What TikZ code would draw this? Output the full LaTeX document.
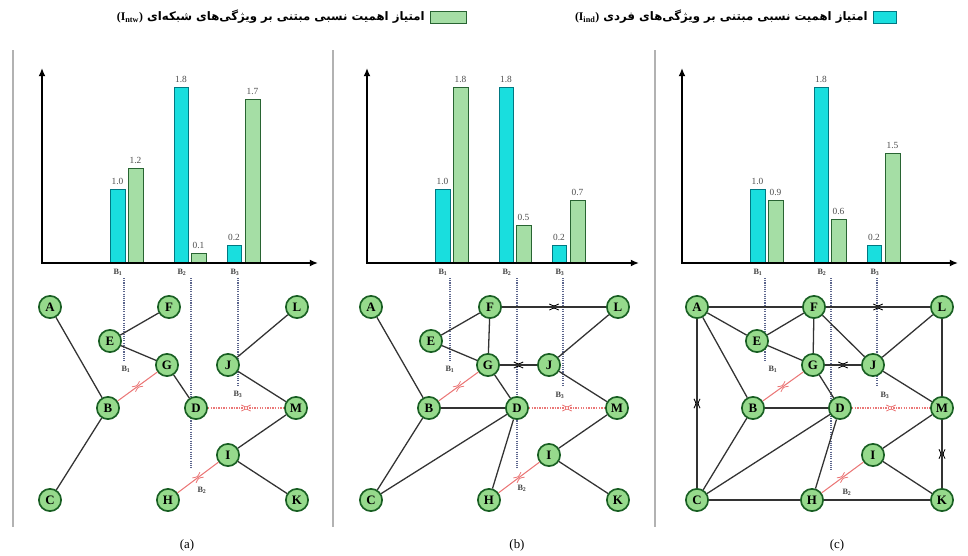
\documentclass[tikz,border=0pt]{standalone}
\usepackage{fontspec}
\setmainfont{Liberation Serif}
\newfontfamily\persianfont[Script=Arabic]{DejaVu Sans}
\TeXXeTstate=1
\usetikzlibrary{arrows.meta,decorations.markings}

\definecolor{nodefill}{RGB}{150,218,140}
\definecolor{nodeline}{RGB}{25,95,35}
\definecolor{barcyan}{RGB}{25,222,222}
\definecolor{barcyanline}{RGB}{0,120,130}
\definecolor{bargreen}{RGB}{165,222,165}
\definecolor{bargreenline}{RGB}{40,100,50}
\definecolor{cutred}{RGB}{235,120,120}
\definecolor{guide}{RGB}{90,100,140}

\tikzset{
  vertex/.style={circle, draw=nodeline, line width=1.4pt, fill=nodefill, minimum size=19pt,
    inner sep=0pt, font=\bfseries\fontsize{11}{11}\selectfont},
  link/.style={line width=1.1pt, black!80},
  cutlink/.style={line width=0.9pt, cutred},
  cutdots/.style={line width=1.2pt, cutred, densely dotted},
  pinch/.style={postaction={decorate, decoration={markings, mark=at position 0.5 with {
      \draw[line width=0.7pt, solid, #1] (-4pt,2.6pt) .. controls (0pt,0.5pt) .. (4pt,2.6pt);
      \draw[line width=0.7pt, solid, #1] (-4pt,-2.6pt) .. controls (0pt,-0.5pt) .. (4pt,-2.6pt);}}}},
  pinch/.default=black,
  chartaxis/.style={line width=2.2pt, {Latex[length=7pt,width=6pt]}-{Latex[length=7pt,width=6pt]}},
  ibar/.style={draw=barcyanline, fill=barcyan, line width=0.8pt},
  nbar/.style={draw=bargreenline, fill=bargreen, line width=0.8pt},
  valtext/.style={font=\fontsize{8}{8}\selectfont, text=black!70, inner sep=1pt, anchor=south},
  blabel/.style={font=\bfseries\fontsize{7}{7}\selectfont, text=black!75, inner sep=1pt},
  guideline/.style={guide, line width=0.9pt, densely dotted},
  panelrule/.style={black!30, line width=1.2pt},
  captext/.style={font=\fontsize{11}{12}\selectfont},
  legendtext/.style={font=\persianfont\bfseries\fontsize{10}{11}\selectfont, inner sep=0pt, anchor=east}
}

\begin{document}
\begin{tikzpicture}[x=0.03cm, y=-0.03cm]
\useasboundingbox (0,0) rectangle (968,556);

% Legend
\node[legendtext] (legntw) at (425,17) {\beginR امتیاز اهمیت نسبی مبتنی بر ویژگی‌های شبکه‌ای \beginL{\rmfamily\bfseries(I\textsubscript{ntw})}\endL\endR};
\draw[nbar] (430,11) rectangle (466,23);
\node[legendtext] (legind) at (868,17) {\beginR امتیاز اهمیت نسبی مبتنی بر ویژگی‌های فردی \beginL{\rmfamily\bfseries(I\textsubscript{ind})}\endL\endR};
\draw[ibar] (873,11) rectangle (896,23);

%%%%%%%%%%%%%%%%%%%% Panel (a)
\begin{scope}
\draw[panelrule] (13,50) -- (13,527);
\begin{scope}
% Bars
\draw[ibar] (110,263) rectangle (125,189);
\draw[nbar] (128,263) rectangle (143,168);
\draw[ibar] (174,263) rectangle (188,87);
\draw[nbar] (191,263) rectangle (206,253);
\draw[ibar] (227,263) rectangle (241,245);
\draw[nbar] (245,263) rectangle (260,99);
\node[valtext] (av1) at (117.5,186) {1.0};
\node[valtext] (av2) at (135.5,165) {1.2};
\node[valtext] (av3) at (181,84) {1.8};
\node[valtext] (av4) at (198.5,250) {0.1};
\node[valtext] (av5) at (234,242) {0.2};
\node[valtext] (av6) at (252.5,96) {1.7};
% Axes
\coordinate (aY) at (42,68);
\coordinate (aX) at (318,263);
\draw[chartaxis] (aY) |- (aX);
\node[blabel] (ab1) at (118,272) {B\textsubscript{1}};
\node[blabel] (ab2) at (182,272) {B\textsubscript{2}};
\node[blabel] (ab3) at (235,272) {B\textsubscript{3}};
% Guides
\draw[guideline] (124,278) -- (124,361);
\draw[guideline] (191,278) -- (191,468);
\draw[guideline] (238,278) -- (238,386);
\end{scope}
% Nodes
\node[vertex] (aA) at (50,307) {A};
\node[vertex] (aF) at (169,307) {F};
\node[vertex] (aL) at (297,307) {L};
\node[vertex] (aE) at (110,341) {E};
\node[vertex] (aG) at (167,365) {G};
\node[vertex] (aJ) at (228,365) {J};
\node[vertex] (aB) at (108,408) {B};
\node[vertex] (aD) at (196,408) {D};
\node[vertex] (aM) at (296,408) {M};
\node[vertex] (aI) at (228,455) {I};
\node[vertex] (aC) at (50,500) {C};
\node[vertex] (aH) at (168,500) {H};
\node[vertex] (aK) at (297,500) {K};
% Edges
\draw[link] (aA) -- (aB);
\draw[link] (aB) -- (aC);
\draw[link] (aE) -- (aF);
\draw[link] (aE) -- (aG);
\draw[link] (aG) -- (aD);
\draw[link] (aJ) -- (aL);
\draw[link] (aJ) -- (aM);
\draw[link] (aM) -- (aI);
\draw[link] (aI) -- (aK);
% Cut edges
\draw[cutlink, pinch=cutred] (aB) -- (aG);
\draw[cutdots, pinch=cutred] (aD) -- (aM);
\draw[cutlink, pinch=cutred] (aH) -- (aI);
\node[blabel] (acut1) at (126,369) {B\textsubscript{1}};
\node[blabel] (acut3) at (238,394) {B\textsubscript{3}};
\node[blabel] (acut2) at (202,490) {B\textsubscript{2}};
\node[captext] (acap) at (187,545) {(a)};
\end{scope}

%%%%%%%%%%%%%%%%%%%% Panel (b)
\begin{scope}[shift={(321,0)}]
\draw[panelrule] (12,50) -- (12,527);
\begin{scope}[shift={(4,0)}]
% Bars
\draw[ibar] (110,263) rectangle (125,189);
\draw[nbar] (128,263) rectangle (143,87);
\draw[ibar] (174,263) rectangle (188,87);
\draw[nbar] (191,263) rectangle (206,225);
\draw[ibar] (227,263) rectangle (241,245);
\draw[nbar] (245,263) rectangle (260,200);
\node[valtext] (bv1) at (117.5,186) {1.0};
\node[valtext] (bv2) at (135.5,84) {1.8};
\node[valtext] (bv3) at (181,84) {1.8};
\node[valtext] (bv4) at (198.5,222) {0.5};
\node[valtext] (bv5) at (234,242) {0.2};
\node[valtext] (bv6) at (252.5,197) {0.7};
% Axes
\coordinate (bY) at (42,68);
\coordinate (bX) at (314,263);
\draw[chartaxis] (bY) |- (bX);
\node[blabel] (bb1) at (118,272) {B\textsubscript{1}};
\node[blabel] (bb2) at (182,272) {B\textsubscript{2}};
\node[blabel] (bb3) at (235,272) {B\textsubscript{3}};
% Guides
\draw[guideline] (125,278) -- (125,361);
\draw[guideline] (192,278) -- (192,468);
\draw[guideline] (238,278) -- (238,386);
\end{scope}
% Nodes
\node[vertex] (bA) at (50,307) {A};
\node[vertex] (bF) at (169,307) {F};
\node[vertex] (bL) at (297,307) {L};
\node[vertex] (bE) at (110,341) {E};
\node[vertex] (bG) at (167,365) {G};
\node[vertex] (bJ) at (228,365) {J};
\node[vertex] (bB) at (108,408) {B};
\node[vertex] (bD) at (196,408) {D};
\node[vertex] (bM) at (296,408) {M};
\node[vertex] (bI) at (228,455) {I};
\node[vertex] (bC) at (50,500) {C};
\node[vertex] (bH) at (168,500) {H};
\node[vertex] (bK) at (297,500) {K};
% Edges
\draw[link] (bA) -- (bB);
\draw[link] (bB) -- (bC);
\draw[link] (bE) -- (bF);
\draw[link] (bE) -- (bG);
\draw[link] (bF) -- (bG);
\draw[link] (bG) -- (bD);
\draw[link] (bB) -- (bD);
\draw[link] (bC) -- (bD);
\draw[link] (bD) -- (bH);
\draw[link] (bJ) -- (bL);
\draw[link] (bJ) -- (bM);
\draw[link] (bM) -- (bI);
\draw[link] (bI) -- (bK);
\draw[link, pinch] (bF) -- (bL);
\draw[link, pinch] (bG) -- (bJ);
% Cut edges
\draw[cutlink, pinch=cutred] (bB) -- (bG);
\draw[cutdots, pinch=cutred] (bD) -- (bM);
\draw[cutlink, pinch=cutred] (bH) -- (bI);
\node[blabel] (bcut1) at (129,369) {B\textsubscript{1}};
\node[blabel] (bcut3) at (239,395) {B\textsubscript{3}};
\node[blabel] (bcut2) at (201,488) {B\textsubscript{2}};
\node[captext] (bcap) at (196,545) {(b)};
\end{scope}

%%%%%%%%%%%%%%%%%%%% Panel (c)
\begin{scope}[shift={(645,0)}]
\draw[panelrule] (10,50) -- (10,527);
\begin{scope}[shift={(-5,0)}]
% Bars
\draw[ibar] (110,263) rectangle (125,189);
\draw[nbar] (128,263) rectangle (143,200);
\draw[ibar] (174,263) rectangle (188,87);
\draw[nbar] (191,263) rectangle (206,219);
\draw[ibar] (227,263) rectangle (241,245);
\draw[nbar] (245,263) rectangle (260,153);
\node[valtext] (cv1) at (117.5,186) {1.0};
\node[valtext] (cv2) at (135.5,197) {0.9};
\node[valtext] (cv3) at (181,84) {1.8};
\node[valtext] (cv4) at (198.5,216) {0.6};
\node[valtext] (cv5) at (234,242) {0.2};
\node[valtext] (cv6) at (252.5,150) {1.5};
% Axes
\coordinate (cY) at (42,68);
\coordinate (cX) at (318,263);
\draw[chartaxis] (cY) |- (cX);
\node[blabel] (cb1) at (118,272) {B\textsubscript{1}};
\node[blabel] (cb2) at (182,272) {B\textsubscript{2}};
\node[blabel] (cb3) at (235,272) {B\textsubscript{3}};
% Guides
\draw[guideline] (125,278) -- (125,361);
\draw[guideline] (191,278) -- (191,470);
\draw[guideline] (237,278) -- (237,386);
\end{scope}
% Nodes
\node[vertex] (cA) at (52,307) {A};
\node[vertex] (cF) at (169,307) {F};
\node[vertex] (cL) at (297,307) {L};
\node[vertex] (cE) at (112,341) {E};
\node[vertex] (cG) at (168,365) {G};
\node[vertex] (cJ) at (228,365) {J};
\node[vertex] (cB) at (108,408) {B};
\node[vertex] (cD) at (195,408) {D};
\node[vertex] (cM) at (297,408) {M};
\node[vertex] (cI) at (228,455) {I};
\node[vertex] (cC) at (52,500) {C};
\node[vertex] (cH) at (167,500) {H};
\node[vertex] (cK) at (297,500) {K};
% Edges
\draw[link] (cA) -- (cF);
\draw[link] (cA) -- (cE);
\draw[link] (cA) -- (cB);
\draw[link, pinch] (cA) -- (cC);
\draw[link] (cF) -- (cE);
\draw[link] (cF) -- (cG);
\draw[link] (cF) -- (cJ);
\draw[link, pinch] (cF) -- (cL);
\draw[link] (cL) -- (cJ);
\draw[link] (cL) -- (cM);
\draw[link] (cE) -- (cG);
\draw[link, pinch] (cG) -- (cJ);
\draw[link] (cG) -- (cD);
\draw[link] (cB) -- (cD);
\draw[link] (cB) -- (cC);
\draw[link] (cC) -- (cD);
\draw[link] (cC) -- (cH);
\draw[link] (cD) -- (cH);
\draw[link] (cJ) -- (cM);
\draw[link] (cM) -- (cI);
\draw[link, pinch] (cM) -- (cK);
\draw[link] (cI) -- (cK);
\draw[link] (cH) -- (cK);
% Cut edges
\draw[cutlink, pinch=cutred] (cB) -- (cG);
\draw[cutdots, pinch=cutred] (cD) -- (cM);
\draw[cutlink, pinch=cutred] (cH) -- (cI);
\node[blabel] (ccut1) at (128,369) {B\textsubscript{1}};
\node[blabel] (ccut3) at (240,395) {B\textsubscript{3}};
\node[blabel] (ccut2) at (202,492) {B\textsubscript{2}};
\node[captext] (ccap) at (192,545) {(c)};
\end{scope}
\end{tikzpicture}
\end{document}
